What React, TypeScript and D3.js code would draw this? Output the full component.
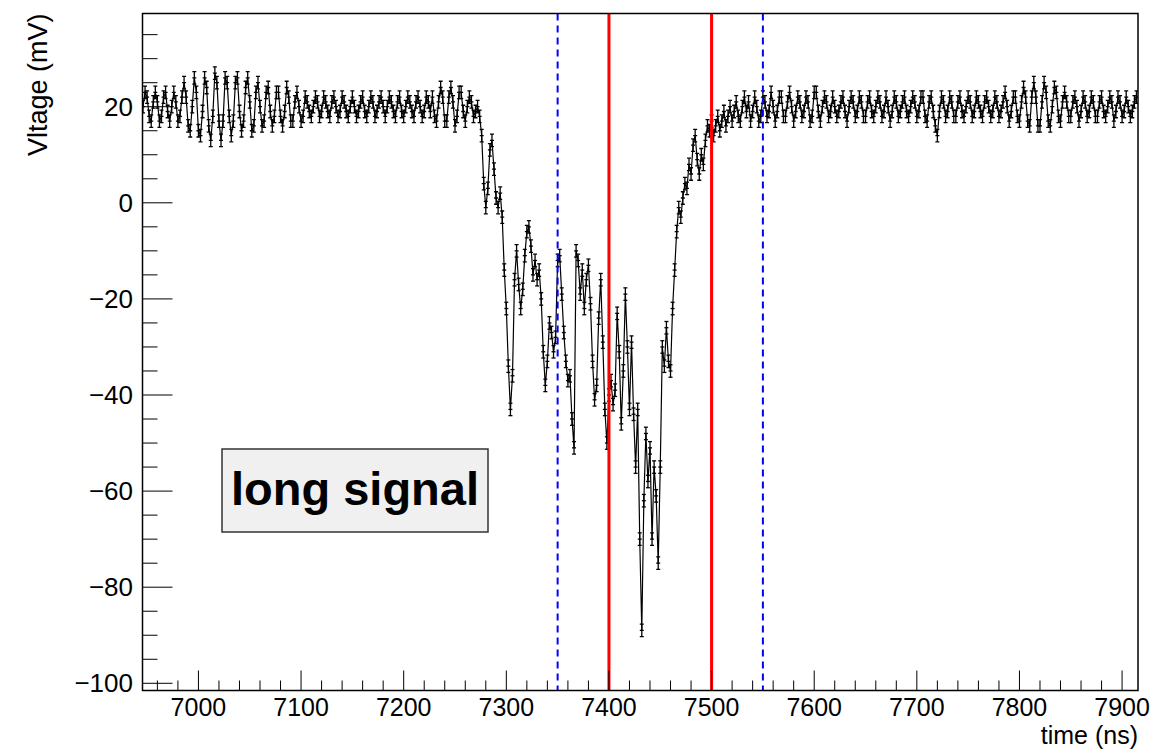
import React from "react";
import * as d3 from "d3";

// Waveform sampling: first sample time and step (ns)
const T_START = 6946;
const T_STEP = 2;

// Baseline before the pulse (6946 – 7274 ns), mV
const preBaseline = [
  20, 23, 22, 18, 17, 21, 23, 21, 17, 18,
  22, 23, 19, 17, 20, 23, 21, 17, 18, 22,
  25, 22, 16, 15, 20, 26, 23, 15, 14, 19,
  26, 24, 16, 13, 18, 27, 25, 17, 13, 17,
  26, 25, 18, 14, 17, 25, 26, 19, 15, 17,
  24, 26, 21, 15, 16, 23, 25, 20, 16, 17,
  23, 24, 19, 16, 18, 23, 23, 18, 16, 19,
  24, 22, 17, 17, 21, 23, 20, 17, 18, 22,
  21, 19, 18, 20, 22, 21, 18, 19, 22, 21,
  19, 18, 21, 22, 20, 18, 19, 22, 21, 19,
  18, 20, 22, 20, 18, 19, 21, 22, 19, 18,
  20, 22, 21, 18, 19, 21, 22, 20, 18, 20,
  22, 21, 19, 18, 21, 22, 19, 18, 20, 22,
  21, 19, 18, 21, 22, 20, 18, 19, 22, 21,
  19, 22, 18, 17, 21, 24, 22, 17, 17, 22,
  24, 21, 16, 18, 23, 23, 19, 17, 20, 22,
  21, 18, 19, 20, 18,
];

// The long pulse (7276 – 7534 ns), mV
const pulse = [
  14, 4, -1, 3, 11, 13, 7, 1, -1, 2,
  -3, -14, -22, -34, -43, -36, -16, -10, -17, -22,
  -18, -11, -6, -5, -9, -15, -12, -16, -14, -20,
  -31, -38, -33, -25, -27, -31, -28, -12, -11, -19,
  -27, -33, -37, -36, -45, -51, -10, -12, -19, -14,
  -22, -16, -13, -21, -33, -41, -38, -24, -16, -29,
  -43, -50, -40, -37, -42, -39, -23, -31, -46, -35,
  -19, -30, -43, -29, -44, -55, -43, -70, -89, -62,
  -48, -58, -51, -70, -55, -61, -75, -55, -30, -34,
  -26, -33, -35, -22, -14, -6, -1, -3, 1, 4,
  3, 8, 6, 12, 14, 9, 6, 10, 8, 13,
  16, 15, 17, 14, 16, 18, 15, 17, 19, 16,
  18, 20, 17, 19, 21, 18, 17, 20, 22, 19,
];

// Baseline after the pulse (7536 – 7914 ns), mV
const postBaseline = [
  21, 17, 19, 22, 20, 17, 18, 22, 21, 18,
  19, 23, 20, 17, 19, 22, 22, 18, 18, 21,
  23, 20, 17, 19, 22, 21, 18, 19, 22, 21,
  17, 18, 23, 23, 19, 17, 20, 22, 21, 18,
  19, 22, 20, 18, 19, 21, 22, 19, 17, 20,
  22, 21, 18, 19, 22, 21, 18, 18, 21, 22,
  19, 18, 20, 22, 21, 18, 19, 22, 20, 17,
  19, 22, 21, 18, 19, 21, 22, 19, 18, 20,
  22, 21, 18, 19, 22, 22, 18, 17, 21, 22,
  19, 16, 14, 19, 22, 21, 18, 19, 22, 21,
  18, 18, 21, 22, 19, 18, 20, 22, 21, 18,
  19, 22, 21, 19, 18, 21, 22, 20, 18, 19,
  22, 21, 18, 19, 21, 23, 20, 17, 19, 22,
  22, 18, 17, 21, 24, 22, 17, 16, 22, 25,
  22, 16, 16, 21, 25, 23, 17, 16, 20, 24,
  23, 18, 17, 21, 23, 21, 18, 18, 21, 22,
  20, 17, 19, 22, 21, 18, 19, 22, 21, 18,
  18, 21, 22, 19, 18, 20, 22, 21, 17, 19,
  22, 21, 18, 19, 22, 20, 18, 19, 21, 22,
];

// Per-sample uncertainty (mV)
const errorMv = 1.3;

// Integration window (solid) and search window (dashed), ns
const windowLines = [7400, 7500];
const searchLines = [7350, 7550];

// Axes
const xDomain = [6945.5, 7915.5];
const yDomain = [-101.5, 39.4];
const xMajorTicks = [7000, 7100, 7200, 7300, 7400, 7500, 7600, 7700, 7800, 7900];
const yMajorTicks = [-100, -80, -60, -40, -20, 0, 20];
const xMinorStep = 20;
const yMinorStep = 5;

const xTitle = "time (ns)";
const yTitle = "Vltage (mV)";
const boxLabel = "long signal";

const W = 1176;
const H = 750;
const frame = { left: 142.5, right: 1138, top: 13.5, bottom: 690.5 };
const FONT = "'Liberation Sans', Arial, Helvetica, sans-serif";

export default function App() {
  const x = d3.scaleLinear().domain(xDomain).range([frame.left, frame.right]);
  const y = d3.scaleLinear().domain(yDomain).range([frame.bottom, frame.top]);

  const values = [...preBaseline, ...pulse, ...postBaseline];
  const points = values.map((v, i) => ({ t: T_START + i * T_STEP, v }));

  const line = d3
    .line<{ t: number; v: number }>()
    .x((d) => x(d.t))
    .y((d) => y(d.v));

  const xMinor = d3
    .range(Math.ceil(xDomain[0] / xMinorStep) * xMinorStep, xDomain[1], xMinorStep)
    .filter((t) => !xMajorTicks.includes(t));
  const yMinor = d3
    .range(Math.ceil(yDomain[0] / yMinorStep) * yMinorStep, yDomain[1], yMinorStep)
    .filter((v) => !yMajorTicks.includes(v));

  const cap = 2;

  return (
    <div>
      <style>{`body{margin:0;background:#fff}`}</style>
      <svg width={W} height={H} style={{ display: "block", background: "#fff" }} fontFamily={FONT}>
        <defs>
          <clipPath id="plotArea">
            <rect x={frame.left} y={frame.top} width={frame.right - frame.left} height={frame.bottom - frame.top} />
          </clipPath>
        </defs>

        <g clipPath="url(#plotArea)">
          {/* error bars */}
          <g stroke="#000" strokeWidth={1.3}>
            {points.map((d, i) => {
              const px = x(d.t);
              const y0 = y(d.v - errorMv);
              const y1 = y(d.v + errorMv);
              const ym = y(d.v);
              return (
                <g key={i}>
                  <line x1={px} x2={px} y1={y0} y2={y1} />
                  <line x1={px - cap} x2={px + cap} y1={y0} y2={y0} />
                  <line x1={px - cap} x2={px + cap} y1={y1} y2={y1} />
                  <line x1={px - cap} x2={px + cap} y1={ym} y2={ym} />
                </g>
              );
            })}
          </g>
          {/* waveform */}
          <path d={line(points) || ""} fill="none" stroke="#000" strokeWidth={1.2} />

          {/* search window */}
          {searchLines.map((t) => (
            <line key={"s" + t} x1={x(t)} x2={x(t)} y1={frame.top} y2={frame.bottom}
              stroke="#0000ff" strokeWidth={2} strokeDasharray="7,5" />
          ))}
          {/* integration window */}
          {windowLines.map((t) => (
            <line key={"w" + t} x1={x(t)} x2={x(t)} y1={frame.top} y2={frame.bottom}
              stroke="#ff0000" strokeWidth={3} />
          ))}
        </g>

        {/* frame */}
        <rect x={frame.left} y={frame.top} width={frame.right - frame.left} height={frame.bottom - frame.top}
          fill="none" stroke="#000" strokeWidth={1.5} />

        {/* axis ticks */}
        <g stroke="#000" strokeWidth={1}>
          {xMajorTicks.map((t) => (
            <line key={"xM" + t} x1={x(t)} x2={x(t)} y1={frame.bottom} y2={frame.bottom - 20} />
          ))}
          {xMinor.map((t) => (
            <line key={"xm" + t} x1={x(t)} x2={x(t)} y1={frame.bottom} y2={frame.bottom - 10} />
          ))}
          {yMajorTicks.map((v) => (
            <line key={"yM" + v} x1={frame.left} x2={frame.left + 30} y1={y(v)} y2={y(v)} />
          ))}
          {yMinor.map((v) => (
            <line key={"ym" + v} x1={frame.left} x2={frame.left + 15} y1={y(v)} y2={y(v)} />
          ))}
        </g>

        {/* tick labels */}
        <g fill="#000">
          {xMajorTicks.map((t) => (
            <text key={"xl" + t} x={x(t)} y={716} textAnchor="middle" fontSize={25}>{t}</text>
          ))}
          {yMajorTicks.map((v) => (
            <text key={"yl" + v} x={133} y={y(v)} dy="0.35em" textAnchor="end" fontSize={26}>
              {v < 0 ? "\u2212" + Math.abs(v) : String(v)}
            </text>
          ))}
        </g>

        {/* axis titles */}
        <text x={frame.right} y={744} textAnchor="end" fontSize={25}>{xTitle}</text>
        <text transform={`translate(47,${frame.top}) rotate(-90)`} textAnchor="end" fontSize={27}>{yTitle}</text>

        {/* label box */}
        <rect x={222} y={449} width={266} height={83} fill="#f0f0f0" stroke="#333" strokeWidth={1.5} />
        <text x={355} y={505} textAnchor="middle" fontSize={47} fontWeight="bold">{boxLabel}</text>
      </svg>
    </div>
  );
}
